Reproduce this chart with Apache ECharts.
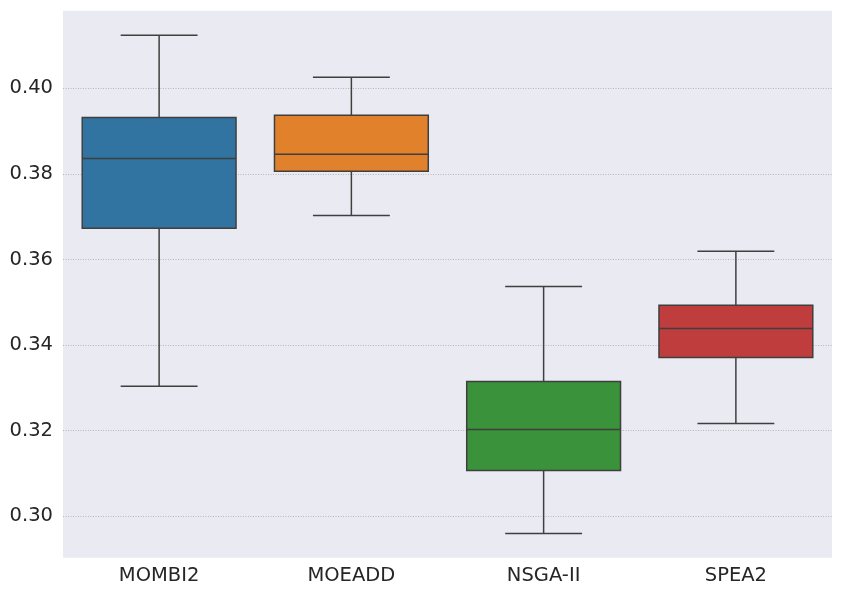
<!DOCTYPE html>
<html>
<head>
<meta charset="utf-8">
<script src="https://cdn.jsdelivr.net/npm/echarts@6/dist/echarts.min.js"></script>
<style>
  html, body { margin: 0; padding: 0; background: #fff; }
  #chart { width: 842px; height: 595px; }
</style>
</head>
<body>
<div id="chart"></div>
<script>
// algorithms on the x axis
const categories = ["MOMBI2", "MOEADD", "NSGA-II", "SPEA2"];
// box stats: [min, q1, median, q3, max]
const mombi2 = [0.3304, 0.3673, 0.3836, 0.3932, 0.4124];
const moeadd = [0.3703, 0.3806, 0.3846, 0.3937, 0.4026];
const nsga2 = [0.2960, 0.3107, 0.3203, 0.3315, 0.3537];
const spea2 = [0.3217, 0.3371, 0.3439, 0.3493, 0.3619];
const boxColors = ["#3274a1", "#e1812c", "#3a923a", "#c03d3e"];
const yMin = 0.29033, yMax = 0.41813;

const stats = [mombi2, moeadd, nsga2, spea2];
const data = stats.map((s, i) => [i].concat(s));

const edge = "#3f3f3f";

const chart = echarts.init(document.getElementById("chart"), null, { renderer: "canvas" });

chart.setOption({
  backgroundColor: "#ffffff",
  animation: false,
  grid: {
    left: 63, right: 10, top: 10.7, bottom: 37.3,
    show: true, backgroundColor: "#eaeaf2", borderWidth: 0
  },
  xAxis: {
    type: "category",
    data: categories,
    axisLine: { show: false },
    axisTick: { show: false },
    splitLine: { show: false },
    axisLabel: { color: "#262626", fontSize: 19.5, fontFamily: "DejaVu Sans", margin: 8 }
  },
  yAxis: {
    type: "value",
    min: yMin,
    max: yMax,
    splitNumber: 6,
    axisLine: { show: false },
    axisTick: { show: false },
    splitLine: {
      show: true, showMinLine: false, showMaxLine: false,
      lineStyle: { color: "#a8a8a8", width: 0.8, type: [1, 1.5] }
    },
    axisLabel: {
      color: "#262626", fontSize: 19.5, fontFamily: "DejaVu Sans", margin: 10,
      showMinLabel: false, showMaxLabel: false,
      formatter: v => v.toFixed(2)
    }
  },
  series: [{
    type: "custom",
    data: data,
    encode: { x: 0, y: [1, 2, 3, 4, 5] },
    renderItem: (params, api) => {
      const i = api.value(0);
      const band = api.size([1, 0])[0];
      const bw = band * 0.8;
      const cw = bw / 2;
      const pMin = api.coord([i, api.value(1)]);
      const pQ1 = api.coord([i, api.value(2)]);
      const pMed = api.coord([i, api.value(3)]);
      const pQ3 = api.coord([i, api.value(4)]);
      const pMax = api.coord([i, api.value(5)]);
      const cx = pMin[0];
      const ls = { stroke: edge, lineWidth: 1.5 };
      return {
        type: "group",
        children: [
          { type: "line", shape: { x1: cx, y1: pQ3[1], x2: cx, y2: pMax[1] }, style: ls },
          { type: "line", shape: { x1: cx, y1: pQ1[1], x2: cx, y2: pMin[1] }, style: ls },
          { type: "line", shape: { x1: cx - cw / 2, y1: pMax[1], x2: cx + cw / 2, y2: pMax[1] }, style: ls },
          { type: "line", shape: { x1: cx - cw / 2, y1: pMin[1], x2: cx + cw / 2, y2: pMin[1] }, style: ls },
          {
            type: "rect",
            shape: { x: cx - bw / 2, y: pQ3[1], width: bw, height: pQ1[1] - pQ3[1] },
            style: { fill: boxColors[i], stroke: edge, lineWidth: 1.5 }
          },
          { type: "line", shape: { x1: cx - bw / 2, y1: pMed[1], x2: cx + bw / 2, y2: pMed[1] }, style: ls }
        ]
      };
    }
  }]
});
</script>
</body>
</html>
